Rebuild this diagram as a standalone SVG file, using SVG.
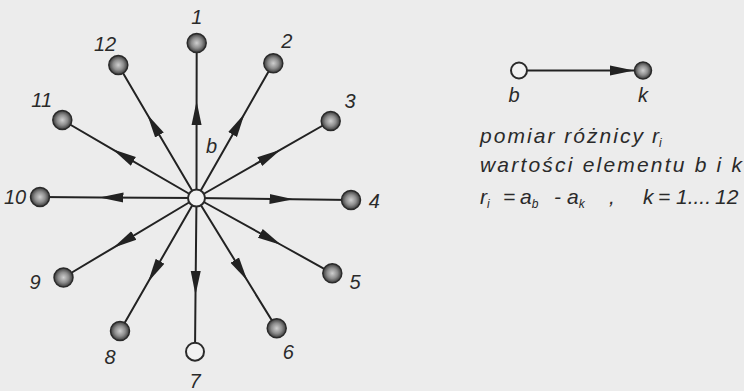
<svg xmlns="http://www.w3.org/2000/svg" width="744" height="391" viewBox="0 0 744 391">
<defs>
<radialGradient id="ball" cx="50%" cy="50%" r="50%">
<stop offset="0" stop-color="#cfcfcf"/>
<stop offset="0.55" stop-color="#8d8d8d"/>
<stop offset="1" stop-color="#3a3a3a"/>
</radialGradient>
<marker id="ah" markerUnits="userSpaceOnUse" markerWidth="26" markerHeight="12" refX="24" refY="5" orient="auto" viewBox="0 0 26 10">
<path d="M0,0 L24,5 L0,10 Z" fill="#222"/>
</marker>
</defs>
<style>
.lbl{font-family:"Liberation Sans",Arial,sans-serif;font-style:italic;font-size:20px;fill:#2a2a2a;text-anchor:middle}
.txt{font-family:"Liberation Sans",Arial,sans-serif;font-style:italic;font-size:21px;fill:#2a2a2a}
.sub{font-size:12px}
.edge{fill:none;stroke:#222;stroke-width:2;marker-mid:url(#ah)}
.full{fill:url(#ball);stroke:#2a2a2a;stroke-width:1.5}
.hollow{fill:#f2f2f2;stroke:#2a2a2a;stroke-width:2}
</style>
<rect width="744" height="391" fill="#ececec"/>
<g id="connectors">
<path class="edge" d="M196.5,198 L196.6,101 L196.7,43"/>
<path class="edge" d="M196.5,198 L244.5,113.7 L273.3,63.3"/>
<path class="edge" d="M196.5,198 L280.6,149.7 L330.7,121"/>
<path class="edge" d="M196.5,198 L293.5,199.3 L351,200"/>
<path class="edge" d="M196.5,198 L281.3,245 L332.3,273.3"/>
<path class="edge" d="M196.5,198 L247.3,280.6 L276.7,328.3"/>
<path class="edge" d="M196.5,198 L195.5,295 L195,351.7"/>
<path class="edge" d="M196.5,198 L148.1,282.1 L120,331"/>
<path class="edge" d="M196.5,198 L113.2,247.8 L63.5,277.5"/>
<path class="edge" d="M196.5,198 L99.5,197.4 L40,197"/>
<path class="edge" d="M196.5,198 L112.6,149.3 L62.3,120"/>
<path class="edge" d="M196.5,198 L147.3,114.4 L118.3,65"/>
<path class="edge" d="M519,70.5 L634,70.5 L643,70.5"/>
</g>
<g id="node-b"><circle class="hollow" cx="196.5" cy="198" r="8.5" fill="#f7f7f7"/><text class="lbl" x="211.5" y="153">b</text></g>
<g id="node-1"><circle class="full" cx="196.7" cy="43" r="9.5"/><text class="lbl" x="196.7" y="24">1</text></g>
<g id="node-2"><circle class="full" cx="273.3" cy="63.3" r="9.5"/><text class="lbl" x="286.7" y="48">2</text></g>
<g id="node-3"><circle class="full" cx="330.7" cy="121" r="9.5"/><text class="lbl" x="350" y="107.5">3</text></g>
<g id="node-4"><circle class="full" cx="351" cy="200" r="9.5"/><text class="lbl" x="374.3" y="207.5">4</text></g>
<g id="node-5"><circle class="full" cx="332.3" cy="273.3" r="9.5"/><text class="lbl" x="355" y="288.5">5</text></g>
<g id="node-6"><circle class="full" cx="276.7" cy="328.3" r="9.5"/><text class="lbl" x="288.3" y="359">6</text></g>
<g id="node-7"><circle class="hollow" cx="195" cy="351.7" r="9"/><text class="lbl" x="195" y="387.5">7</text></g>
<g id="node-8"><circle class="full" cx="120" cy="331" r="9.5"/><text class="lbl" x="110" y="364">8</text></g>
<g id="node-9"><circle class="full" cx="63.5" cy="277.5" r="9.5"/><text class="lbl" x="35" y="289">9</text></g>
<g id="node-10"><circle class="full" cx="40" cy="197" r="9.5"/><text class="lbl" x="15" y="204">10</text></g>
<g id="node-11"><circle class="full" cx="62.3" cy="120" r="9.5"/><text class="lbl" x="41.7" y="106.5">11</text></g>
<g id="node-12"><circle class="full" cx="118.3" cy="65" r="9.5"/><text class="lbl" x="105" y="50.5">12</text></g>
<g id="legend-b"><circle class="hollow" cx="519" cy="70.5" r="8"/><text class="lbl" x="514" y="102">b</text></g>
<g id="legend-k"><circle class="full" cx="643" cy="70.5" r="8.5"/><text class="lbl" x="643" y="102">k</text></g>
<g id="legend-text">
<text class="txt" x="480" y="143" textLength="163" lengthAdjust="spacing">pomiar różnicy</text>
<text class="txt" x="652" y="143">r<tspan class="sub" dy="4">i</tspan></text>
<text class="txt" x="480" y="172" textLength="262" lengthAdjust="spacing">wartości elementu b i k</text>
<text class="txt" y="204"><tspan x="480">r</tspan><tspan class="sub" dy="4">i</tspan><tspan x="503" dy="-4">=</tspan><tspan x="520">a</tspan><tspan class="sub" dy="4">b</tspan><tspan x="554" dy="-4">-</tspan><tspan x="567">a</tspan><tspan class="sub" dy="4">k</tspan><tspan x="609" dy="-4">,</tspan><tspan x="643">k</tspan><tspan x="658">=</tspan><tspan x="676">1....</tspan><tspan x="715">12</tspan></text>
</g>
</svg>
